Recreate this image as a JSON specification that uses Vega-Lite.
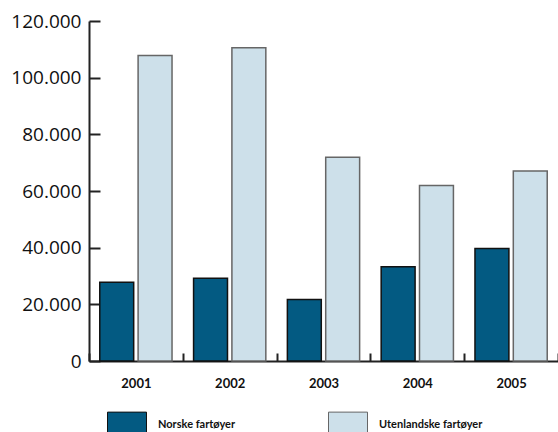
{
  "$schema": "https://vega.github.io/schema/vega-lite/v6.json",
  "autosize": "none",
  "width": 469,
  "height": 340,
  "padding": {"left": 89, "top": 21, "right": 0, "bottom": 71},
  "background": "white",
  "config": {"view": {"stroke": null}},
  "data": {"values": [
    {"year": "2001", "type": "Norske fartøyer", "value": 27800},
    {"year": "2001", "type": "Utenlandske fartøyer", "value": 107800},
    {"year": "2002", "type": "Norske fartøyer", "value": 29200},
    {"year": "2002", "type": "Utenlandske fartøyer", "value": 110600},
    {"year": "2003", "type": "Norske fartøyer", "value": 21700},
    {"year": "2003", "type": "Utenlandske fartøyer", "value": 71900},
    {"year": "2004", "type": "Norske fartøyer", "value": 33300},
    {"year": "2004", "type": "Utenlandske fartøyer", "value": 61900},
    {"year": "2005", "type": "Norske fartøyer", "value": 39700},
    {"year": "2005", "type": "Utenlandske fartøyer", "value": 67100}
  ]},
  "mark": {"type": "bar", "strokeWidth": 1.5},
  "encoding": {
    "x": {
      "field": "year", "type": "ordinal", "title": null,
      "scale": {"paddingInner": 0, "paddingOuter": 0},
      "axis": {
        "tickBand": "extent", "tickSize": -8, "tickWidth": 2, "tickColor": "#222",
        "domainColor": "#222", "domainWidth": 2,
        "labelAngle": 0, "labelPadding": 24, "labelFont": "Lato", "labelFontWeight": "bold",
        "labelFontSize": 13, "labelColor": "#111"
      }
    },
    "xOffset": {
      "field": "type", "type": "nominal",
      "scale": {"paddingInner": 0.115, "paddingOuter": 0.281}
    },
    "y": {
      "field": "value", "type": "quantitative", "title": null,
      "scale": {"domain": [0, 120000], "nice": false},
      "axis": {
        "values": [0, 20000, 40000, 60000, 80000, 100000, 120000],
        "grid": false, "tickSize": -11, "tickWidth": 2, "tickColor": "#222",
        "domainColor": "#222", "domainWidth": 2,
        "labelPadding": 19, "labelFont": "Open Sans", "labelFontSize": 19, "labelColor": "#111",
        "labelExpr": "replace(format(datum.value, ','), ',', '.')"
      }
    },
    "color": {
      "field": "type", "type": "nominal",
      "scale": {"domain": ["Norske fartøyer", "Utenlandske fartøyer"], "range": ["#035a82", "#cde0ea"]},
      "legend": {
        "title": null, "orient": "none", "direction": "horizontal", "columns": 2,
        "legendX": 18, "legendY": 384, "padding": 0,
        "symbolType": "M-1,-0.68H1V0.68H-1Z", "symbolSize": 1521,
        "symbolStrokeColor": "#222", "symbolStrokeWidth": 1, "symbolOpacity": 1,
        "labelOffset": 11, "columnPadding": 90,
        "labelFont": "Lato", "labelFontWeight": "bold", "labelFontSize": 11, "labelColor": "#111"
      }
    },
    "stroke": {
      "field": "type", "type": "nominal",
      "scale": {"domain": ["Norske fartøyer", "Utenlandske fartøyer"], "range": ["#111111", "#666666"]},
      "legend": null
    }
  }
}
